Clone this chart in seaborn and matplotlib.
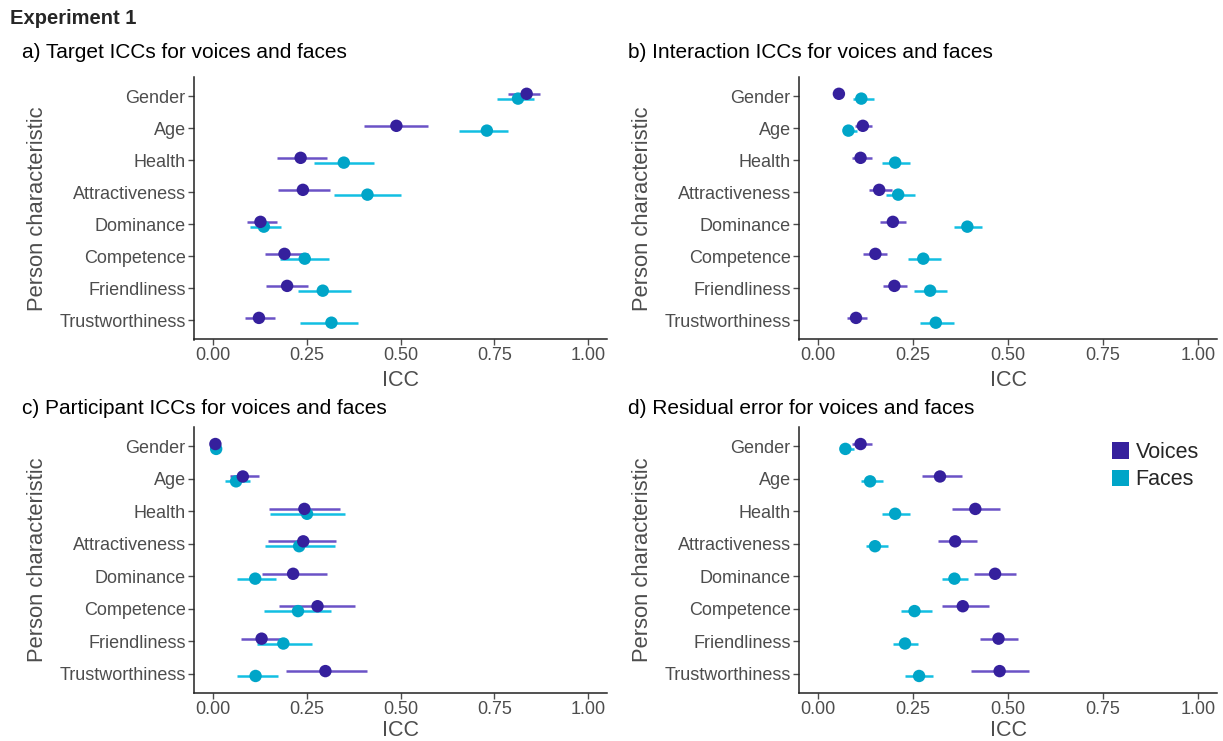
import numpy as np
import pandas as pd
import matplotlib
matplotlib.use("Agg")
import matplotlib.pyplot as plt
import seaborn as sns
from matplotlib.patches import Patch

categories = ["Gender", "Age", "Health", "Attractiveness", "Dominance",
              "Competence", "Friendliness", "Trustworthiness"]
groups = ["Voices", "Faces"]

# panel a: Target ICCs
a_voice = [0.836, 0.489, 0.234, 0.240, 0.127, 0.191, 0.198, 0.123]
a_voice_lo = [0.785, 0.403, 0.171, 0.174, 0.092, 0.140, 0.142, 0.087]
a_voice_hi = [0.871, 0.572, 0.304, 0.311, 0.171, 0.254, 0.254, 0.166]
a_face = [0.813, 0.730, 0.349, 0.412, 0.136, 0.245, 0.293, 0.316]
a_face_lo = [0.756, 0.656, 0.269, 0.322, 0.098, 0.180, 0.227, 0.233]
a_face_hi = [0.856, 0.787, 0.429, 0.500, 0.181, 0.309, 0.367, 0.388]

# panel b: Interaction ICCs
b_voice = [0.055, 0.118, 0.112, 0.161, 0.197, 0.151, 0.201, 0.100]
b_voice_lo = [0.046, 0.098, 0.089, 0.134, 0.163, 0.119, 0.170, 0.075]
b_voice_hi = [0.066, 0.143, 0.141, 0.194, 0.231, 0.182, 0.233, 0.130]
b_face = [0.114, 0.080, 0.203, 0.211, 0.393, 0.277, 0.295, 0.310]
b_face_lo = [0.091, 0.067, 0.168, 0.178, 0.358, 0.238, 0.253, 0.268]
b_face_hi = [0.148, 0.102, 0.242, 0.254, 0.432, 0.324, 0.339, 0.359]

# panel c: Participant ICCs
c_voice = [0.007, 0.080, 0.244, 0.241, 0.214, 0.279, 0.130, 0.300]
c_voice_lo = [0.004, 0.045, 0.151, 0.148, 0.131, 0.177, 0.075, 0.195]
c_voice_hi = [0.010, 0.122, 0.338, 0.329, 0.303, 0.379, 0.192, 0.411]
c_face = [0.009, 0.062, 0.251, 0.230, 0.113, 0.227, 0.188, 0.114]
c_face_lo = [0.006, 0.032, 0.153, 0.138, 0.065, 0.137, 0.117, 0.065]
c_face_hi = [0.012, 0.100, 0.353, 0.325, 0.168, 0.316, 0.263, 0.175]

# panel d: Residual error
d_voice = [0.112, 0.321, 0.414, 0.361, 0.466, 0.381, 0.475, 0.478]
d_voice_lo = [0.090, 0.274, 0.353, 0.315, 0.410, 0.325, 0.425, 0.403]
d_voice_hi = [0.143, 0.378, 0.478, 0.419, 0.520, 0.449, 0.525, 0.555]
d_face = [0.072, 0.137, 0.203, 0.150, 0.359, 0.254, 0.229, 0.266]
d_face_lo = [0.057, 0.112, 0.169, 0.125, 0.326, 0.218, 0.198, 0.229]
d_face_hi = [0.094, 0.172, 0.242, 0.183, 0.396, 0.299, 0.262, 0.303]

titles = ["a) Target ICCs for voices and faces",
          "b) Interaction ICCs for voices and faces",
          "c) Participant ICCs for voices and faces",
          "d) Residual error for voices and faces"]
x_ticks = [0.00, 0.25, 0.50, 0.75, 1.00]
x_ticklabels = ["0.00", "0.25", "0.50", "0.75", "1.00"]

panels = [
    (a_voice, a_voice_lo, a_voice_hi, a_face, a_face_lo, a_face_hi),
    (b_voice, b_voice_lo, b_voice_hi, b_face, b_face_lo, b_face_hi),
    (c_voice, c_voice_lo, c_voice_hi, c_face, c_face_lo, c_face_hi),
    (d_voice, d_voice_lo, d_voice_hi, d_face, d_face_lo, d_face_hi),
]

point_colors = {"Voices": "#35209d", "Faces": "#00a5c8"}
line_colors = {"Voices": "#6b52c6", "Faces": "#12bfe2"}
dodge = {"Voices": -0.075, "Faces": 0.075}

sns.set_theme(style="ticks")
plt.rcParams["font.family"] = ["Liberation Sans", "DejaVu Sans"]

fig = plt.figure(figsize=(12.23, 7.41), dpi=100)
W, H = 1223, 741
ax_px = [
    (194, 77.0, 607, 339.5),
    (799, 77.0, 1217, 339.5),
    (194, 427.0, 607, 693.0),
    (799, 427.0, 1217, 693.0),
]
title_px = [(22, 52), (628, 52), (22, 408), (628, 408)]
xlabel_pads = [4.5, 4.5, 1.5, 1.5]

gray = "#4d4d4d"
for i, (vals, (l, t, r, b)) in enumerate(zip(panels, ax_px)):
    ax = fig.add_axes([l / W, 1 - b / H, (r - l) / W, (b - t) / H])
    v, vlo, vhi, f, flo, fhi = vals
    df = pd.DataFrame({
        "cat": categories * 2,
        "group": ["Voices"] * 8 + ["Faces"] * 8,
        "icc": v + f,
        "lo": vlo + flo,
        "hi": vhi + fhi,
    })
    df["ypos"] = df["cat"].map({c: k for k, c in enumerate(categories)}) + df["group"].map(dodge)
    for g in ["Faces", "Voices"]:
        sub = df[df["group"] == g]
        ax.hlines(sub["ypos"], sub["lo"], sub["hi"], color=line_colors[g], lw=1.8, zorder=2)
    for g in ["Faces", "Voices"]:
        sub = df[df["group"] == g]
        sns.scatterplot(data=sub, x="icc", y="ypos", color=point_colors[g], s=80,
                        edgecolor="none", ax=ax, zorder=3, legend=False)
    ax.set_ylim(len(categories) - 0.4, -0.6)
    ax.set_xlim(-0.05, 1.05)
    ax.set_yticks(range(len(categories)))
    ax.set_yticklabels(categories)
    ax.set_xticks(x_ticks)
    ax.set_xticklabels(x_ticklabels)
    ax.tick_params(axis="both", labelsize=13, colors=gray, length=4, width=1)
    ax.tick_params(axis="x", pad=1.5)
    ax.tick_params(axis="y", pad=2)
    for s in ["left", "bottom"]:
        ax.spines[s].set_color("#222222")
        ax.spines[s].set_linewidth(1.1)
    sns.despine(ax=ax)
    ax.set_xlabel("ICC", fontsize=15.5, color=gray, labelpad=xlabel_pads[i])
    ax.set_ylabel("Person characteristic", fontsize=15.8, color=gray, labelpad=8)
    tx, ty = title_px[i]
    fig.text(tx / W, 1 - ty / H, titles[i], fontsize=15, ha="left", va="center", color="black")
    if i == 3:
        handles = [Patch(facecolor=point_colors[g], edgecolor="none") for g in groups]
        ax.legend(handles, groups, loc="upper left", frameon=False, fontsize=15.5,
                  handlelength=0.8, handleheight=0.8, handletextpad=0.3,
                  labelspacing=0.3, borderpad=0, borderaxespad=0,
                  bbox_to_anchor=((1112 - l) / (r - l), (b - 442) / (b - t)))

fig.text(10 / W, 1 - 18 / H, "Experiment 1", fontsize=14.5, fontweight="bold", va="center", ha="left")

fig.savefig("out.png", dpi=100)
